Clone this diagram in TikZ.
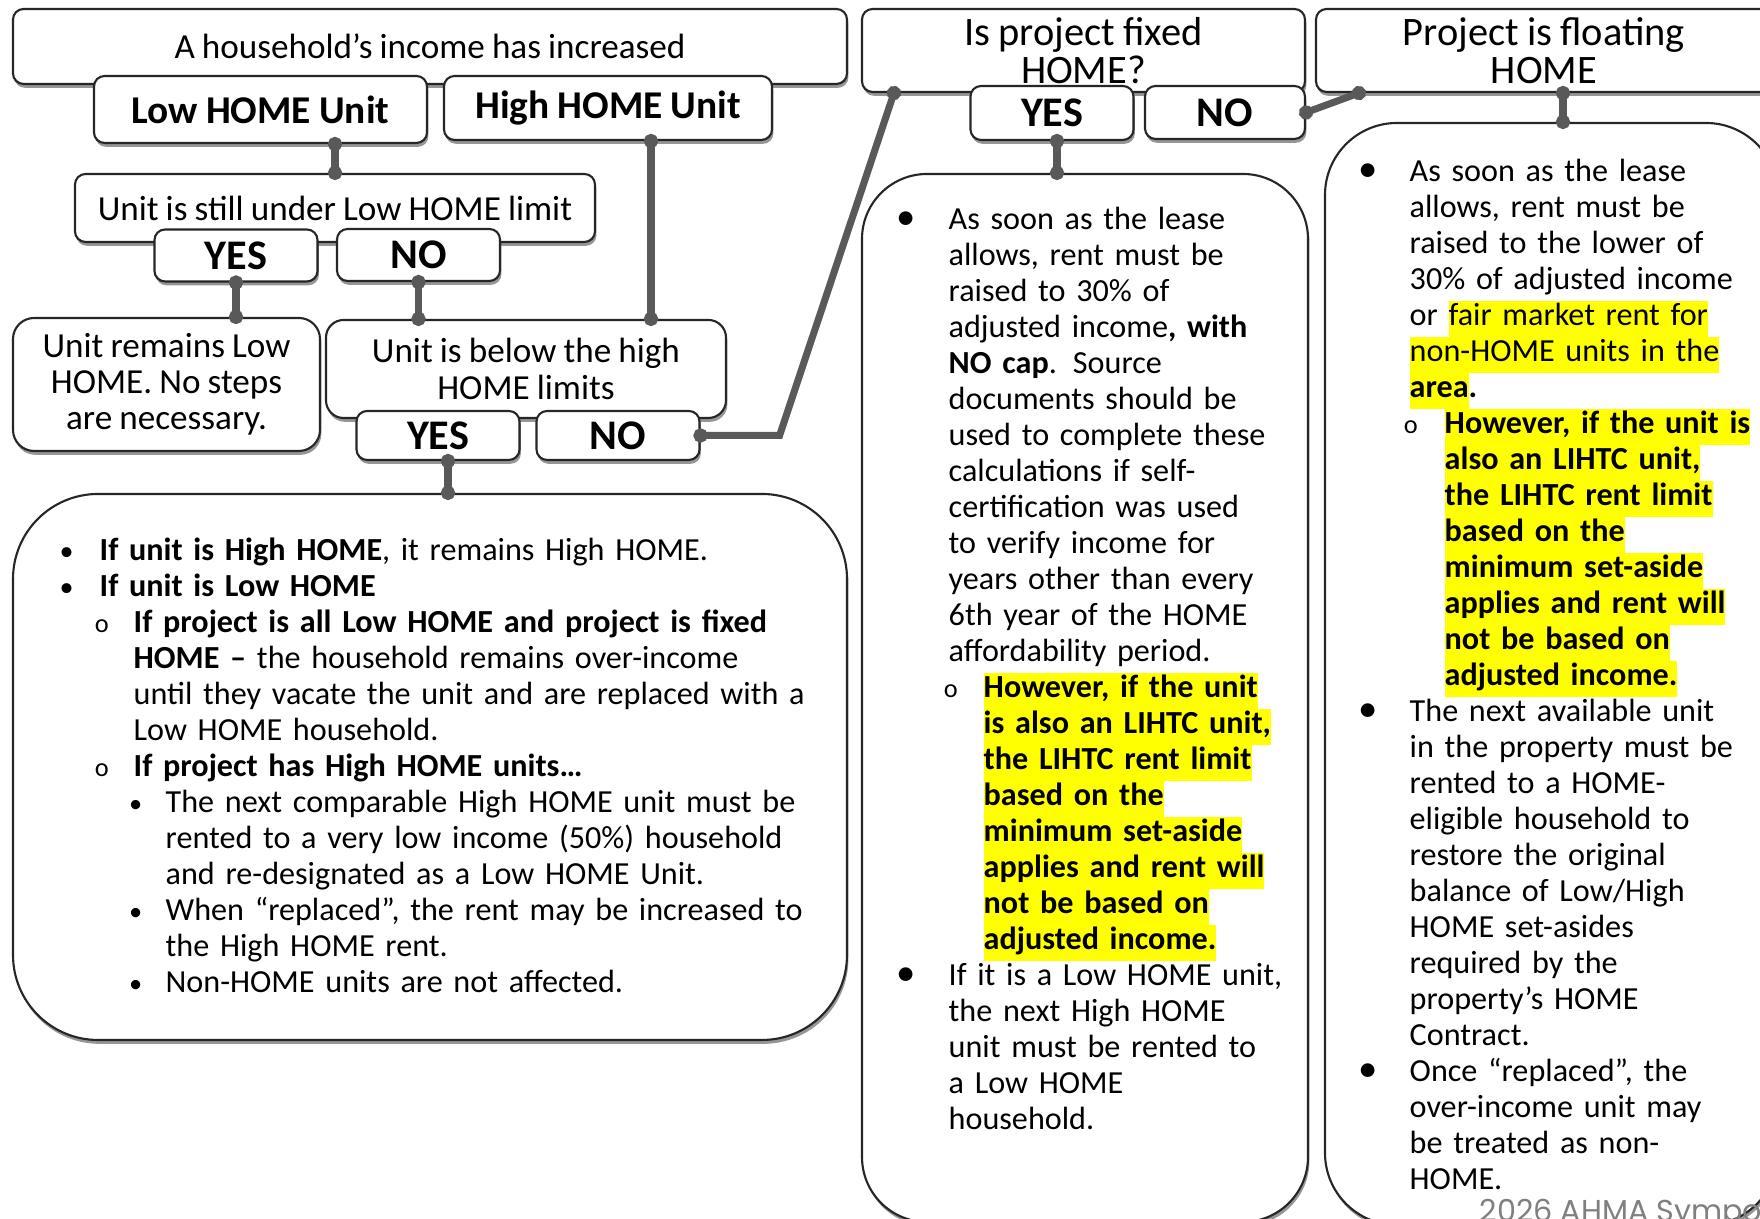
\documentclass[tikz,border=0pt]{standalone}
\usepackage{fontspec}
\setmainfont{Carlito}[WordSpace=0.9]
\newfontfamily\footfont{Poppins}
\usetikzlibrary{arrows.meta,shadows}

% list lines: #1 label centre, #2 text indent, #3 label
\newcommand\bitem[3]{\par\noindent\hangindent=#2\hangafter=1\makebox[#2][l]{\hspace*{#1}\makebox[0pt][c]{#3}}\ignorespaces}
\newcommand\hlt[1]{{\setlength\fboxsep{0pt}\colorbox{ahma_hl}{\strut#1}}}
\newcommand\bulA{{\fontsize{8}{8}\selectfont •}}
\newcommand\bulB{{\fontsize{11}{11}\selectfont •}}
\newcommand\subO{{\fontsize{7.5}{7.5}\selectfont o}}
\newcommand\bulC{{\fontsize{7.5}{7.5}\selectfont •}}

\begin{document}
\begin{tikzpicture}[
    smallbox/.style={shape=rectangle,draw=black!85,line width=0.6pt,fill=white,rounded corners=3pt,inner sep=0pt,
      drop shadow={shadow xshift=0.4pt,shadow yshift=-1.1pt,opacity=0.55,fill=black!75}},
    bigbox/.style={smallbox,rounded corners=#1},
    lbl/.style={font=\fontsize{10}{10.3}\selectfont},
    unitbox/.style={smallbox,font=\bfseries\fontsize{11.2}{13}\selectfont},
    yesno/.style={smallbox,font=\bfseries\fontsize{12}{13}\selectfont,minimum width=1.63cm,minimum height=0.52cm},
    headbox/.style={smallbox,align=center,font=\fontsize{11.5}{10.8}\selectfont,minimum height=0.83cm},
    bodytext/.style={anchor=base west,inner sep=0pt,align=left,font=\fontsize{9.15}{10.24}\selectfont},
    link/.style={draw=ahma_link,line width=2pt,arrows={Circle[length=4pt]-Circle[length=4pt]},shorten <=-2pt,shorten >=-2pt}]
    \definecolor{ahma_link}{RGB}{89,89,89}
    \definecolor{ahma_hl}{RGB}{255,255,0}
    \useasboundingbox (0,0) rectangle (17.6,12.19);
    \clip (0,0) rectangle (17.6,12.19);

    % left branch
    \node[smallbox,lbl,minimum width=8.34cm,minimum height=0.75cm] (hh) at (4.30,11.725) {A household’s income has increased};
    \node[unitbox,minimum width=3.33cm,minimum height=0.67cm] (low) at (2.605,11.095) {Low HOME Unit};
    \node[unitbox,minimum width=3.28cm,minimum height=0.64cm] (high) at (6.08,11.11) {High HOME Unit};
    \node[smallbox,lbl,minimum width=5.20cm,minimum height=0.68cm] (still) at (3.35,10.11) {Unit is still under Low HOME limit};
    \node[yesno] (yes1) at (2.36,9.635) {YES};
    \node[yesno] (no1) at (4.185,9.64) {NO};
    \node[smallbox,lbl,rounded corners=6pt,align=center,minimum width=3.07cm,minimum height=1.33cm] (remain) at (1.665,8.345) {Unit remains Low\\HOME. No steps\\are necessary.};
    \node[smallbox,lbl,rounded corners=5pt,align=center,minimum width=4.00cm,minimum height=0.98cm] (below) at (5.26,8.50) {Unit is below the high\\HOME limits};
    \node[yesno,minimum height=0.49cm] (yes2) at (4.38,7.835) {YES};
    \node[yesno,minimum height=0.49cm] (no2) at (6.18,7.835) {NO};
    \node[bigbox=0.85cm,minimum width=8.34cm,minimum height=5.46cm] (leftbig) at (4.30,4.52) {};
    \node[bodytext,text width=7.8cm] (lefttxt) at (0.56,6.94) {%
      \bitem{0.1cm}{0.43cm}{\bulA}\textbf{If unit is High HOME}, it remains High HOME.
      \bitem{0.1cm}{0.43cm}{\bulA}\textbf{If unit is Low HOME}
      \bitem{0.45cm}{0.77cm}{\subO}\textbf{If project is all Low HOME and project is fixed}\newline
        \textbf{HOME –} the household remains over-income\newline
        until they vacate the unit and are replaced with a\newline
        Low HOME household.
      \bitem{0.45cm}{0.77cm}{\subO}\textbf{If project has High HOME units…}
      \bitem{0.79cm}{1.09cm}{\bulC}The next comparable High HOME unit must be\newline
        rented to a very low income (50\%) household\newline
        and re-designated as a Low HOME Unit.
      \bitem{0.79cm}{1.09cm}{\bulC}When “replaced”, the rent may be increased to\newline
        the High HOME rent.
      \bitem{0.79cm}{1.09cm}{\bulC}Non-HOME units are not affected.\par};

    % fixed / floating
    \node[headbox,minimum width=4.43cm] (fixed) at (10.835,11.685) {Is project fixed\\HOME?};
    \node[yesno,minimum height=0.54cm] (yes3) at (10.52,11.06) {YES};
    \node[yesno,minimum width=1.60cm,minimum height=0.53cm] (no3) at (12.25,11.065) {NO};
    \node[headbox,minimum width=4.56cm] (floating) at (15.44,11.685) {Project is floating\\HOME};
    \node[bigbox=0.65cm,minimum width=4.46cm,minimum height=10.48cm] (midbig) at (10.85,5.21) {};
    \node[bigbox=0.72cm,minimum width=4.53cm,minimum height=11.02cm] (rightbig) at (15.515,5.45) {};

    \node[bodytext,text width=4.2cm] (midtxt) at (8.95,10.25) {%
      \bitem{0.1cm}{0.53cm}{\bulB}As soon as the lease\newline
        allows, rent must be\newline
        raised to 30\% of\newline
        adjusted income\textbf{, with}\newline
        \textbf{NO cap}. Source\newline
        documents should be\newline
        used to complete these\newline
        calculations if self-\newline
        certification was used\newline
        to verify income for\newline
        years other than every\newline
        6th year of the HOME\newline
        affordability period.
      \bitem{0.55cm}{0.88cm}{\subO}{\bfseries\hlt{However, if the unit}\newline
        \hlt{is also an LIHTC unit,}\newline
        \hlt{the LIHTC rent limit}\newline
        \hlt{based on the}\newline
        \hlt{minimum set-aside}\newline
        \hlt{applies and rent will}\newline
        \hlt{not be based on}\newline
        \hlt{adjusted income.}}
      \bitem{0.1cm}{0.53cm}{\bulB}If it is a Low HOME unit,\newline
        the next High HOME\newline
        unit must be rented to\newline
        a Low HOME\newline
        household.\par};

    \node[bodytext,text width=4.1cm] (righttxt) at (13.57,10.73) {%
      \bitem{0.1cm}{0.52cm}{\bulB}As soon as the lease\newline
        allows, rent must be\newline
        raised to the lower of\newline
        30\% of adjusted income\newline
        or \hlt{fair market rent for}\newline
        \hlt{non-HOME units in the}\newline
        \hlt{\textbf{area}}\textbf{.}
      \bitem{0.53cm}{0.87cm}{\subO}{\bfseries\hlt{However, if the unit is}\newline
        \hlt{also an LIHTC unit,}\newline
        \hlt{the LIHTC rent limit}\newline
        \hlt{based on the}\newline
        \hlt{minimum set-aside}\newline
        \hlt{applies and rent will}\newline
        \hlt{not be based on}\newline
        \hlt{adjusted income.}}
      \bitem{0.1cm}{0.52cm}{\bulB}The next available unit\newline
        in the property must be\newline
        rented to a HOME-\newline
        eligible household to\newline
        restore the original\newline
        balance of Low/High\newline
        HOME set-asides\newline
        required by the\newline
        property’s HOME\newline
        Contract.
      \bitem{0.1cm}{0.52cm}{\bulB}Once “replaced”, the\newline
        over-income unit may\newline
        be treated as non-\newline
        HOME.\par};

    \node[anchor=base west,inner sep=0pt,text=black!50,font=\footfont\fontsize{8.6}{10}\selectfont] (footer) at (14.79,-0.03) {2026 AHMA Symposium};

    % connectors
    \draw[link] (low.south -| still.north) -- (still.north);
    \draw[link] ([xshift=0.43cm]high.south) -- ([xshift=0.43cm]high.south |- below.north);
    \draw[link] (yes1.south) -- (yes1.south |- remain.north);
    \draw[link] (no1.south) -- (no1.south |- below.north);
    \draw[link] ([xshift=0.1cm]yes2.south) -- ([xshift=0.1cm]yes2.south |- leftbig.north);
    \draw[link] (no2.east) -- ++(0.79,0) -- ([xshift=0.33cm]fixed.south west);
    \draw[link] ([xshift=0.05cm]yes3.south) -- ([xshift=0.05cm]yes3.south |- midbig.north);
    \draw[link] (no3.east) -- ([xshift=0.44cm]floating.south west);
    \draw[link] ([xshift=0.19cm]floating.south) -- ([xshift=0.19cm]floating.south |- rightbig.north);
\end{tikzpicture}
\end{document}
